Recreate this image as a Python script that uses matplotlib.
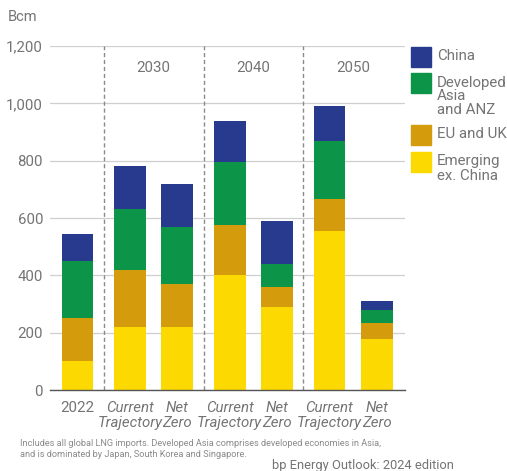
import matplotlib.pyplot as plt
from matplotlib.patches import Rectangle

# Datos (Bcm)
categories = ['2022', 'Current\nTrajectory', 'Net\nZero', 'Current\nTrajectory', 'Net\nZero',
              'Current\nTrajectory', 'Net\nZero']
group_of_bar = [0, 1, 1, 2, 2, 3, 3]
group_names = ['2030', '2040', '2050']

emerging = [100, 220, 220, 400, 290, 555, 177]
eu_uk = [150, 200, 150, 175, 68, 110, 58]
dev_asia = [200, 210, 200, 220, 82, 205, 45]
china = [95, 150, 150, 145, 150, 120, 32]

series = [
    ('Emerging\nex. China', emerging, '#fcd900'),
    ('EU and UK', eu_uk, '#d49c0c'),
    ('Developed\nAsia\nand ANZ', dev_asia, '#0c9448'),
    ('China', china, '#283a8e'),
]

plt.rcParams['font.family'] = ['Roboto', 'DejaVu Sans']
GREY = '#747474'

fig = plt.figure(figsize=(5.07, 4.71), dpi=100)
W, H = 507, 471
ax = fig.add_axes([50 / W, 1 - 390 / H, 355 / W, 344 / H])

# posiciones: un hueco extra entre grupos
GAP = 0.1
pos = [i + GAP * g for i, g in enumerate(group_of_bar)]

bottom = [0] * len(categories)
for name, vals, col in series:
    ax.bar(pos, vals, bottom=bottom, width=0.67, color=col, zorder=3)
    bottom = [b + v for b, v in zip(bottom, vals)]

ax.set_ylim(0, 1200)
ax.set_xlim(-0.58, 6.89)
ax.set_yticks(range(0, 1201, 200))
ax.set_yticklabels([f'{v:,}' for v in range(0, 1201, 200)], color=GREY, fontsize=10.8)
ax.yaxis.grid(True, color='#cfcfcf', linewidth=0.9, zorder=0)
ax.tick_params(axis='y', length=0, pad=5)
ax.tick_params(axis='x', length=0, pad=8)
for s in ['top', 'right', 'left']:
    ax.spines[s].set_visible(False)
ax.spines['bottom'].set_color('#555555')
ax.spines['bottom'].set_linewidth(1.0)
ax.spines['bottom'].set_zorder(4)

ax.set_xticks(pos)
ax.set_xticklabels(categories, color=GREY, fontsize=10.8, linespacing=1.05)
for i, lbl in enumerate(ax.get_xticklabels()):
    if i > 0:
        lbl.set_style('italic')
    lbl.set_verticalalignment('top')

# separadores discontinuos y nombres de grupo
for g, name in enumerate(group_names, start=1):
    idx = [i for i, gg in enumerate(group_of_bar) if gg == g]
    prev = idx[0] - 1
    sep = (pos[prev] + pos[idx[0]]) / 2
    ax.axvline(sep, color='#8a8a8a', linestyle=(0, (3, 2)), linewidth=1.0, zorder=2)
    centre = sum(pos[i] for i in idx) / len(idx)
    ax.text(centre, 1123, name, ha='center', va='center', color=GREY, fontsize=10.8)

fig.text(8 / W, 1 - 17 / H, 'Bcm', color=GREY, fontsize=10.5, va='center', ha='left')

# leyenda manual
legend_items = [series[3], series[2], series[1], series[0]]
legend_tops = [47, 73, 125, 152]
for (name, vals, col), top in zip(legend_items, legend_tops):
    fig.add_artist(Rectangle((411 / W, 1 - (top + 20) / H), 20 / W, 20 / H,
                             transform=fig.transFigure, color=col))
    fig.text(437 / W, 1 - (top + 2.5) / H, name, color=GREY, fontsize=10.8,
             va='top', ha='left', linespacing=1.0)

fig.text(20 / W, 1 - 449 / H,
         'Includes all global LNG imports. Developed Asia comprises developed economies in Asia,\n'
         'and is dominated by Japan, South Korea and Singapore.',
         color='#8a8a8a', fontsize=6.6, va='center', ha='left', linespacing=1.15)
fig.text(272 / W, 1 - 466 / H, 'bp Energy Outlook: 2024 edition',
         color=GREY, fontsize=9.3, va='center', ha='left')

fig.savefig('out.png', dpi=100)
